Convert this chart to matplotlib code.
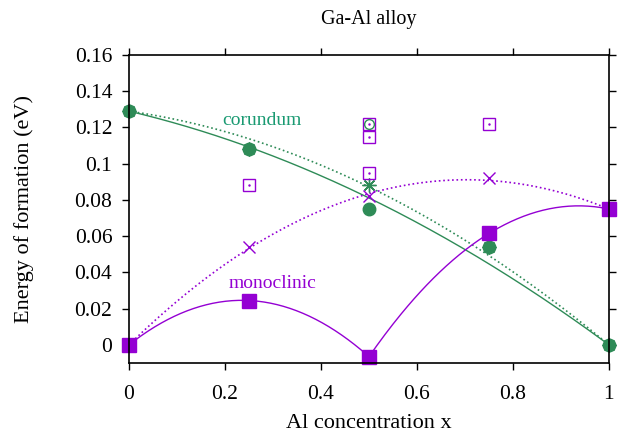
import numpy as np
import matplotlib
matplotlib.use("Agg")
import matplotlib.pyplot as plt
from matplotlib.ticker import FormatStrFormatter

plt.rcParams['font.family'] = ['Liberation Serif', 'DejaVu Serif']

# concentracion de Al
x = [0.0, 0.25, 0.5, 0.75, 1.0]

# corundum
cor_circ = [0.129, 0.108, 0.075, 0.054, 0.0]
cor_star = [0.129, 0.108, 0.088, 0.054, 0.0]

# monoclinic
mono_sq = [0.0, 0.0245, -0.0065, 0.0615, 0.075]
mono_x_pts = [0.25, 0.5, 0.75]
mono_x_val = [0.054, 0.082, 0.092]

# otras estructuras (cuadrados abiertos)
open_sq_x = [0.25, 0.5, 0.5, 0.5, 0.75]
open_sq_y = [0.088, 0.122, 0.115, 0.095, 0.122]
open_circ_x = [0.5]
open_circ_y = [0.122]

verde = '#2e8b57'
verde_txt = '#1a9a72'
violeta = '#9400d3'


def ajuste_bowing(xs, ys):
    # E(x) = (1-x)E0 + x E1 - b x(1-x), extremos fijos
    xs = np.array(xs)
    ys = np.array(ys)
    e0, e1 = ys[0], ys[-1]
    lin = (1 - xs) * e0 + xs * e1
    w = xs * (1 - xs)
    b = np.sum(w * (ys - lin)) / np.sum(w * w)
    return lambda t: (1 - t) * e0 + t * e1 + b * t * (1 - t)


t = np.linspace(0, 1, 300)

fig = plt.figure(figsize=(6.23, 4.36), dpi=100)
ax = fig.add_axes([0.207, 0.1674, 0.7705, 0.7065])

# curvas
f_circ = ajuste_bowing(x, cor_circ)
f_star = ajuste_bowing(x, cor_star)
ax.plot(t, f_circ(t), '-', color=verde, lw=1.0)
ax.plot(t, f_star(t), ':', color=verde, lw=1.2)

f_mono = ajuste_bowing([0.0] + mono_x_pts + [1.0], [mono_sq[0]] + mono_x_val + [mono_sq[-1]])
ax.plot(t, f_mono(t), ':', color=violeta, lw=1.2)

# monoclinic solido: dos tramos cuadraticos
p1 = np.polyfit(x[:3], mono_sq[:3], 2)
t1 = np.linspace(0, 0.5, 150)
ax.plot(t1, np.polyval(p1, t1), '-', color=violeta, lw=1.0)
p2 = np.polyfit(x[2:], mono_sq[2:], 2)
t2 = np.linspace(0.5, 1, 150)
ax.plot(t2, np.polyval(p2, t2), '-', color=violeta, lw=1.0)

# puntos
ax.plot(x, cor_star, linestyle='none', marker=(8, 2, 0), ms=10, mew=1.0, color=verde, clip_on=False)
ax.plot(x, cor_circ, linestyle='none', marker='o', ms=9, color=verde, clip_on=False)
ax.plot(x, mono_sq, linestyle='none', marker='s', ms=9.5, color=violeta, clip_on=False)
ax.plot(mono_x_pts, mono_x_val, linestyle='none', marker='x', ms=9, mew=1.0, color=violeta)
ax.plot(open_sq_x, open_sq_y, linestyle='none', marker='s', ms=8, mfc='none', mew=1.0, color=violeta)
ax.plot(open_sq_x, open_sq_y, linestyle='none', marker='.', ms=1.5, color=violeta)
ax.plot(open_circ_x, open_circ_y, linestyle='none', marker='o', ms=7, mfc='none', mew=1.0, color=verde)

ax.text(0.277, 0.124, 'corundum', color=verde_txt, fontsize=14, ha='center', va='center')
ax.text(0.30, 0.034, 'monoclinic', color=violeta, fontsize=14, ha='center', va='center')

ax.set_xlim(0, 1)
ax.set_ylim(-0.01, 0.16)
ax.set_xticks(np.arange(0, 1.01, 0.2))
ax.set_yticks(np.arange(0, 0.161, 0.02))
ax.xaxis.set_major_formatter(FormatStrFormatter('%g'))
ax.yaxis.set_major_formatter(FormatStrFormatter('%g'))
ax.tick_params(direction='out', length=5, width=1, top=True, right=True, labelsize=15.5)
ax.tick_params(axis='x', pad=11)
ax.tick_params(axis='y', pad=7)
for s in ax.spines.values():
    s.set_linewidth(1.2)

ax.set_xlabel('Al concentration x', fontsize=16, va='center')
ax.set_ylabel('Energy of formation (eV)', fontsize=16, va='center')
ax.xaxis.set_label_coords(0.5, -0.195)
ax.yaxis.set_label_coords(-0.219, 0.5)
ax.set_title('Ga-Al alloy', fontsize=14.5, pad=22)

fig.savefig('out.png', dpi=100)
